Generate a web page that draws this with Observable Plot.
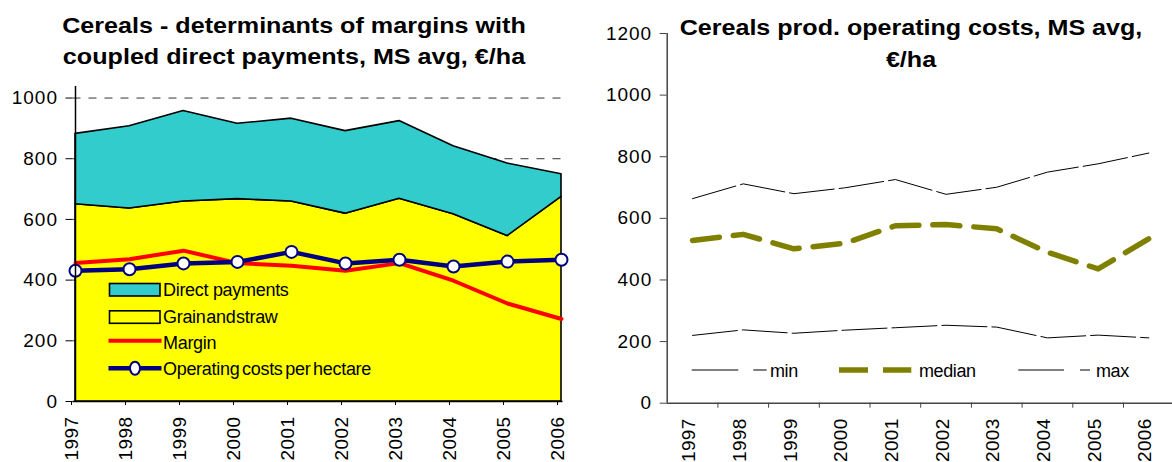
<!DOCTYPE html>
<html>
<head>
<meta charset="utf-8">
<script src="https://cdn.jsdelivr.net/npm/d3@7"></script>
<script src="https://cdn.jsdelivr.net/npm/@observablehq/plot@0.6"></script>
<style>
  html, body { margin: 0; padding: 0; background: #ffffff; }
  #wrap { position: relative; width: 1172px; height: 462px; overflow: hidden; font-family: "Liberation Sans", Arial, sans-serif; }
  #left, #right { position: absolute; top: 0; }
  #left { left: 0; }
  #right { left: 590px; }
  svg { overflow: visible; }
</style>
</head>
<body>
<div id="wrap"><div id="left"></div><div id="right"></div></div>
<script>
// ---- data ----
const years = [1997, 1998, 1999, 2000, 2001, 2002, 2003, 2004, 2005, 2006];
const grainStraw = [650, 636, 659, 667, 659, 619, 668, 617, 545, 674];
const directPayments = [232, 271, 298, 248, 273, 272, 256, 224, 239, 75];
const margin = [456, 469, 497, 456, 447, 431, 456, 398, 323, 272];
const operatingCosts = [431, 436, 455, 460, 493, 455, 467, 445, 461, 467];

const costMin = [220, 238, 227, 237, 245, 253, 247, 212, 221, 212];
const costMedian = [528, 548, 501, 519, 576, 580, 566, 490, 436, 534];
const costMax = [664, 712, 680, 699, 726, 678, 701, 750, 777, 812];

const leftYTicks = [0, 200, 400, 600, 800, 1000];
const rightYTicks = [0, 200, 400, 600, 800, 1000, 1200];

const leftTitle = ["Cereals - determinants of margins with", "coupled direct payments, MS avg, €/ha"];
const rightTitle = ["Cereals prod. operating costs, MS avg,", "€/ha"];
const leftLegend = ["Direct payments", "Grain and straw", "Margin", "Operating costs per hectare"];
const rightLegend = ["min", "median", "max"];

const FONT = '"Liberation Sans", Arial, sans-serif';
const C = { direct: "#33CCCC", grain: "#FFFF00", margin: "#FF0000", cost: "#000080", median: "#808000" };
const fmt = d => String(d);

const rows = years.map((year, i) => ({
  year,
  grain: grainStraw[i],
  total: grainStraw[i] + directPayments[i],
  margin: margin[i],
  cost: operatingCosts[i]
}));

// draws a centred bold title whose glyphs are stretched horizontally to a target width
function drawTitle(g, lines, cx, baselines, widthOfFirst) {
  let sx = 1;
  lines.forEach((line, i) => {
    const t = g.append("text")
      .attr("text-anchor", "middle").attr("font-weight", "bold").attr("font-size", 22)
      .text(line);
    if (i === 0) {
      const len = t.node().getComputedTextLength();
      sx = len > 0 ? widthOfFirst / len : 1.14;
    }
    t.attr("transform", `translate(${cx},${baselines[i]}) scale(${sx},1)`);
  });
}

// ---------- LEFT CHART ----------
const left = Plot.plot({
  width: 590,
  height: 462,
  marginLeft: 72.5,
  marginRight: 27.5,
  marginTop: 86,
  marginBottom: 61,
  style: { fontFamily: FONT, fontSize: "19px", color: "#000", background: "transparent", overflow: "visible" },
  x: { type: "point", domain: years, padding: 0, label: null },
  y: { domain: [0, 1038], label: null },
  marks: [
    Plot.gridY(leftYTicks.slice(1), { stroke: "#333", strokeOpacity: 1, strokeWidth: 1, strokeDasharray: "8,8" }),
    Plot.areaY(rows, { x: "year", y1: rows.map(() => 0), y2: "grain", fill: C.grain, stroke: "#000", strokeWidth: 1.6, curve: "linear" }),
    Plot.areaY(rows, { x: "year", y1: "grain", y2: "total", fill: C.direct, stroke: "#000", strokeWidth: 1.6, curve: "linear" }),
    Plot.line(rows, { x: "year", y: "margin", stroke: C.margin, strokeWidth: 4 }),
    Plot.line(rows, { x: "year", y: "cost", stroke: C.cost, strokeWidth: 4.5 }),
    Plot.dot(rows, { x: "year", y: "cost", r: 6, fill: "#fff", stroke: C.cost, strokeWidth: 2 }),
    Plot.ruleX([years[0]], { stroke: "#000", strokeWidth: 1.5 }),
    Plot.ruleY([0], { stroke: "#000", strokeWidth: 1.5 }),
    Plot.axisY({ ticks: leftYTicks, tickFormat: fmt, tickSize: 7, tickPadding: 8, fontSize: 19, label: null }),
    Plot.axisX({ ticks: years, tickFormat: fmt, tickSize: 4, tickPadding: 11, tickRotate: -90, fontSize: 19, label: null, dx: -4 })
  ]
});
document.getElementById("left").appendChild(left);
d3.select(left).selectAll("g[aria-label='y-axis tick label'] text").attr("letter-spacing", "1px");
d3.select(left).selectAll("g[aria-label='x-axis tick label'] text").attr("letter-spacing", "0.4px");

{
  const svg = d3.select(left);
  const g = svg.append("g").attr("font-family", FONT).attr("text-anchor", "start");
  drawTitle(g, leftTitle, 294, [33.3, 64], 464);
  // legend
  const lg = g.append("g").attr("font-size", 18).attr("letter-spacing", "-0.3px");
  lg.append("rect").attr("x", 109.5).attr("y", 283.5).attr("width", 50.5).attr("height", 12.5)
    .attr("fill", C.direct).attr("stroke", "#000").attr("stroke-width", 1.6);
  lg.append("rect").attr("x", 109.5).attr("y", 310.8).attr("width", 50.5).attr("height", 12.5)
    .attr("fill", C.grain).attr("stroke", "#000").attr("stroke-width", 1.6);
  lg.append("line").attr("x1", 108.5).attr("x2", 161.5).attr("y1", 340.7).attr("y2", 340.7)
    .attr("stroke", C.margin).attr("stroke-width", 4);
  lg.append("line").attr("x1", 108.5).attr("x2", 161.5).attr("y1", 368.3).attr("y2", 368.3)
    .attr("stroke", C.cost).attr("stroke-width", 4.5);
  lg.append("ellipse").attr("cx", 135).attr("cy", 368.3).attr("rx", 5).attr("ry", 6.5)
    .attr("fill", "#fff").attr("stroke", C.cost).attr("stroke-width", 2);
  const ly = [296, 323, 348.5, 375];
  lg.selectAll("text").data(leftLegend).join("text")
    .attr("x", 163).attr("y", (d, i) => ly[i])
    .attr("text-anchor", "start")
    .attr("word-spacing", (d, i) => i === 1 ? "-4px" : (i === 3 ? "-2px" : "0px"))
    .text(d => d);
}

// ---------- RIGHT CHART ----------
const rRows = years.map((year, i) => ({ year, min: costMin[i], median: costMedian[i], max: costMax[i] }));
const bounds = years.slice(1).map(y => y - 0.5);

const right = Plot.plot({
  width: 582,
  height: 462,
  marginLeft: 76.7,
  marginRight: 0,
  marginTop: 33,
  marginBottom: 59.3,
  style: { fontFamily: FONT, fontSize: "19px", color: "#000", background: "transparent", overflow: "visible" },
  x: { type: "linear", domain: [years[0] - 0.5, years[years.length - 1] + 0.5], range: [76.7, 583.7], label: null },
  y: { domain: [0, 1200], label: null },
  marks: [
    Plot.line(rRows, { x: "year", y: "max", stroke: "#000", strokeWidth: 1, strokeDasharray: "45,5" }),
    Plot.line(rRows, { x: "year", y: "median", stroke: C.median, strokeWidth: 5.5, strokeDasharray: "27,14" }),
    Plot.line(rRows, { x: "year", y: "min", stroke: "#000", strokeWidth: 1, strokeDasharray: "45,5" }),
    Plot.ruleX([years[0] - 0.5], { y1: 0, y2: 1200, stroke: "#444", strokeWidth: 1.5 }),
    Plot.ruleY([0], { stroke: "#444", strokeWidth: 1.5 }),
    Plot.axisY({ ticks: rightYTicks, tickFormat: fmt, tickSize: 7, tickPadding: 8, fontSize: 19, label: null, stroke: "#444" }),
    Plot.axisX({ ticks: bounds, tickSize: 5, tickFormat: () => "", label: null, stroke: "#444" }),
    Plot.axisX({ ticks: years, tickSize: 0, tickPadding: 15, tickRotate: -90, fontSize: 19, label: null, tickFormat: fmt, dx: -3.5 })
  ]
});
document.getElementById("right").appendChild(right);
d3.select(right).selectAll("g[aria-label='y-axis tick label'] text").attr("letter-spacing", "1px");
d3.select(right).selectAll("g[aria-label='x-axis tick label'] text").attr("letter-spacing", "0.4px");

{
  const svg = d3.select(right);
  const g = svg.append("g").attr("font-family", FONT).attr("text-anchor", "start");
  const ox = 590; // page offset of this svg
  drawTitle(g, rightTitle, 911 - ox, [35, 67], 463);
  // legend samples
  const samples = [
    { x1: 691.7, x2: 766.7, stroke: "#000", w: 1, dash: "46.6,15" },
    { x1: 839, x2: 911.3, stroke: C.median, w: 5.5, dash: "29,15" },
    { x1: 1018.3, x2: 1090, stroke: "#000", w: 1, dash: "45.7,16" }
  ];
  g.selectAll("line.s").data(samples).join("line")
    .attr("x1", d => d.x1 - ox).attr("x2", d => d.x2 - ox)
    .attr("y1", 370).attr("y2", 370)
    .attr("stroke", d => d.stroke).attr("stroke-width", d => d.w).attr("stroke-dasharray", d => d.dash);
  const tx = [770, 919, 1096];
  g.selectAll("text.l").data(rightLegend).join("text")
    .attr("x", (d, i) => tx[i] - ox).attr("y", 376.5)
    .attr("text-anchor", "start")
    .attr("font-size", 18).attr("letter-spacing", "-0.4px")
    .text(d => d);
}
</script>
</body>
</html>
